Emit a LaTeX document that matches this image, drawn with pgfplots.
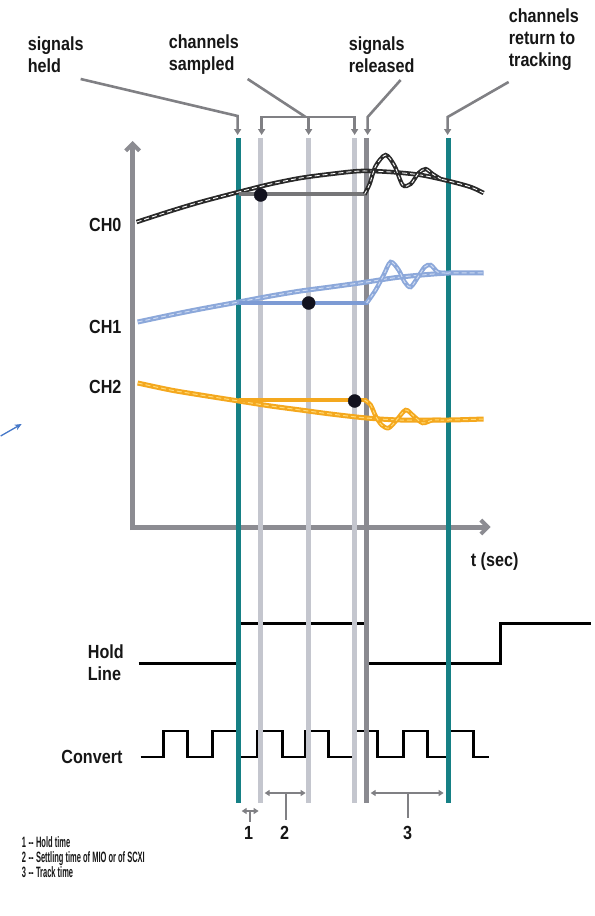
\documentclass[border=0pt]{standalone}
\usepackage{pgfplots}
\pgfplotsset{compat=1.18}
\usetikzlibrary{arrows.meta}
\usepackage{fontspec}
\setmainfont{Liberation Sans}[FakeStretch=0.85]
\newfontfamily\footfont{Liberation Sans}[FakeStretch=0.5]
\definecolor{tealc}{RGB}{22,128,133}
\definecolor{lgray}{RGB}{196,198,206}
\definecolor{dgray}{RGB}{138,138,144}
\definecolor{axgray}{RGB}{140,140,146}
\definecolor{angray}{RGB}{128,128,132}
\definecolor{ch0c}{RGB}{42,42,42}
\definecolor{ch0h}{RGB}{118,118,120}
\definecolor{ch1c}{RGB}{140,168,218}
\definecolor{ch1l}{RGB}{205,218,242}
\definecolor{ch1h}{RGB}{125,155,212}
\definecolor{ch2c}{RGB}{244,168,30}
\definecolor{ch2l}{RGB}{255,218,120}
\definecolor{txt}{RGB}{22,22,22}
\definecolor{bluearr}{RGB}{70,120,200}
\definecolor{dotc}{RGB}{18,18,30}
\tikzset{
  big/.style={font=\fontsize{19}{22}\selectfont\bfseries,text=txt,inner sep=0pt},
  foot/.style={font=\footfont\fontsize{15}{15}\selectfont\bfseries,text=txt,inner sep=0pt},
  tipa/.style={-{Triangle[length=6pt,width=7pt]}},
  tipb/.style={{Triangle[length=5pt,width=6pt]}-{Triangle[length=5pt,width=6pt]}},
}
\begin{document}
\begin{tikzpicture}
\begin{axis}[x=1pt,y=1pt,y dir=reverse,xmin=0,xmax=594,ymin=0,ymax=916,
  hide axis,clip=false,
  every axis plot/.append style={no markers},
]
% invisible frame fixing the picture size
\addplot[draw=none] coordinates {(0,0) (594,916)};
% ---------- axes ----------
\addplot[line width=5pt, axgray, -{Straight Barb[length=7pt,width=14pt,line width=4pt]}] coordinates {(132,530) (132,141)};
\addplot[line width=5pt, axgray, -{Straight Barb[length=7pt,width=14pt,line width=4pt]}] coordinates {(130,527) (490,527)};
% ---------- hold line and convert ----------
\addplot[line width=3pt, black] coordinates {(138,663) (238,663) (238,623) (366,623) (366,663) (500,663) (500,623) (590,623)};
\addplot[line width=2.8pt, black] coordinates {(140,757) (163,757) (163,731) (187,731) (187,757) (212,757) (212,731) (238,731) (238,757) (257,757) (257,731) (282,731) (282,757) (305,757) (305,731) (328,731) (328,757) (355,757) (355,731) (377,731) (377,757) (403,757) (403,731) (427,731) (427,757) (448,757) (448,731) (473,731) (473,757) (488,757)};
% ---------- vertical time lines ----------
\addplot[line width=5pt, lgray] coordinates {(260,138) (260,803)};
\addplot[line width=5pt, lgray] coordinates {(308,138) (308,803)};
\addplot[line width=5pt, lgray] coordinates {(354,138) (354,803)};
\addplot[line width=5pt, dgray] coordinates {(366,138) (366,803)};
\addplot[line width=5pt, tealc] coordinates {(238,138) (238,803)};
\addplot[line width=5pt, tealc] coordinates {(448,138) (448,803)};
% ---------- CH0 ----------
\addplot[line width=4.5pt, ch0c, smooth] coordinates {(136,222) (170,211) (200,202) (238,192) (270,184) (300,178) (330,174) (360,171) (390,172) (420,175) (448,181) (470,187) (483,193)};
\addplot[line width=0.9pt, white, smooth, dash pattern=on 5pt off 3pt] coordinates {(136,222) (170,211) (200,202) (238,192) (270,184) (300,178) (330,174) (360,171) (390,172) (420,175) (448,181) (470,187) (483,193)};
\addplot[line width=4pt, ch0h] coordinates {(238,194) (366,194)};
\addplot[line width=4.2pt, ch0c, smooth] coordinates {(364,194) (369,184) (375,166) (385,155) (394,166) (402,185) (410,184) (418,173) (425,169) (432,174) (440,179)};
\addplot[line width=0.9pt, white, smooth, dash pattern=on 4pt off 3pt] coordinates {(364,194) (369,184) (375,166) (385,155) (394,166) (402,185) (410,184) (418,173) (425,169) (432,174) (440,179)};
% ---------- CH1 ----------
\addplot[line width=5pt, ch1c, smooth] coordinates {(137,322) (170,315) (200,309) (238,302) (270,296) (300,291) (330,287) (366,282) (400,277) (448,273) (483,273)};
\addplot[line width=1pt, ch1l, smooth, dash pattern=on 5pt off 3pt] coordinates {(137,322) (170,315) (200,309) (238,302) (270,296) (300,291) (330,287) (366,282) (400,277) (448,273) (483,273)};
\addplot[line width=4pt, ch1h] coordinates {(238,303) (367,303)};
\addplot[line width=4.5pt, ch1c, smooth] coordinates {(366,303) (375,290) (383,275) (390,262) (398,270) (404,282) (410,287) (418,276) (424,267) (430,265) (437,272) (445,273)};
\addplot[line width=1pt, ch1l, smooth, dash pattern=on 4pt off 3pt] coordinates {(366,303) (375,290) (383,275) (390,262) (398,270) (404,282) (410,287) (418,276) (424,267) (430,265) (437,272) (445,273)};
% ---------- CH2 ----------
\addplot[line width=5pt, ch2c, smooth] coordinates {(137,383) (170,390) (200,395) (238,401) (270,406) (300,410) (330,414) (366,418) (400,420) (448,420) (483,419)};
\addplot[line width=1pt, ch2l, smooth, dash pattern=on 5pt off 3pt] coordinates {(137,383) (170,390) (200,395) (238,401) (270,406) (300,410) (330,414) (366,418) (400,420) (448,420) (483,419)};
\addplot[line width=4.5pt, ch2c] coordinates {(238,400) (366,400)};
\addplot[line width=4.5pt, ch2c, smooth] coordinates {(364,400) (370,405) (375,416) (381,425) (388,428) (396,420) (405,410) (413,416) (422,423) (432,420) (440,420)};
\addplot[line width=1pt, ch2l, smooth, dash pattern=on 4pt off 3pt] coordinates {(364,400) (370,405) (375,416) (381,425) (388,428) (396,420) (405,410) (413,416) (422,423) (432,420) (440,420)};
% ---------- sample dots ----------
\addplot[only marks, mark=*, mark size=6.5pt, dotc, mark options={fill=dotc,draw=dotc}] coordinates {(260,195) (308,303) (354,401)};
% ---------- top annotations ----------
\addplot[line width=2.6pt, angray, tipa] coordinates {(80,79) (237,116) (237,135)};
\addplot[line width=2.6pt, angray] coordinates {(247,79) (305,117)};
\addplot[line width=2.6pt, angray] coordinates {(261,117) (354,117)};
\addplot[line width=2.6pt, angray, tipa] coordinates {(261,116) (261,135)};
\addplot[line width=2.6pt, angray, tipa] coordinates {(308,116) (308,135)};
\addplot[line width=2.6pt, angray, tipa] coordinates {(354,116) (354,135)};
\addplot[line width=2.6pt, angray, tipa] coordinates {(400,80) (367,117) (367,135)};
\addplot[line width=2.6pt, angray, tipa] coordinates {(508,82) (447,117) (447,135)};
% ---------- bottom brackets ----------
\addplot[line width=2.2pt, angray, tipb] coordinates {(241,811) (258,811)};
\addplot[line width=2.2pt, angray] coordinates {(249,811) (249,822)};
\addplot[line width=2.2pt, angray, tipb] coordinates {(264,793) (305,793)};
\addplot[line width=2.2pt, angray] coordinates {(285,793) (285,820)};
\addplot[line width=2.2pt, angray, tipb] coordinates {(370,793) (443,793)};
\addplot[line width=2.2pt, angray] coordinates {(407,793) (407,818)};
% ---------- stray blue arrow ----------
\addplot[line width=1.3pt, bluearr, -{Stealth[length=7pt,width=6pt]}] coordinates {(0,436) (21,424)};
% ---------- text ----------
\node[big, anchor=west, align=left] at (axis cs:27,55) {signals\\held};
\node[big, anchor=west, align=left] at (axis cs:168,55) {channels\\sampled};
\node[big, anchor=west, align=left] at (axis cs:348,55) {signals\\released};
\node[big, anchor=west, align=left] at (axis cs:508,40) {channels\\return to\\tracking};
\node[big, anchor=east] at (axis cs:121,225) {CH0};
\node[big, anchor=east] at (axis cs:121,327) {CH1};
\node[big, anchor=east] at (axis cs:121,387) {CH2};
\node[big, anchor=west] at (axis cs:470,562) {t (sec)};
\node[big, anchor=west, align=left] at (axis cs:87,663) {Hold\\Line};
\node[big, anchor=east] at (axis cs:122,757) {Convert};
\node[big] at (axis cs:248,833) {1};
\node[big] at (axis cs:284,833) {2};
\node[big] at (axis cs:407,833) {3};
\node[foot, anchor=base west] at (axis cs:21,847) {1\,--\,Hold time};
\node[foot, anchor=base west] at (axis cs:21,862) {2\,--\,Settling time of MIO or of SCXI};
\node[foot, anchor=base west] at (axis cs:21,877) {3\,--\,Track time};
\end{axis}
\end{tikzpicture}
\end{document}
